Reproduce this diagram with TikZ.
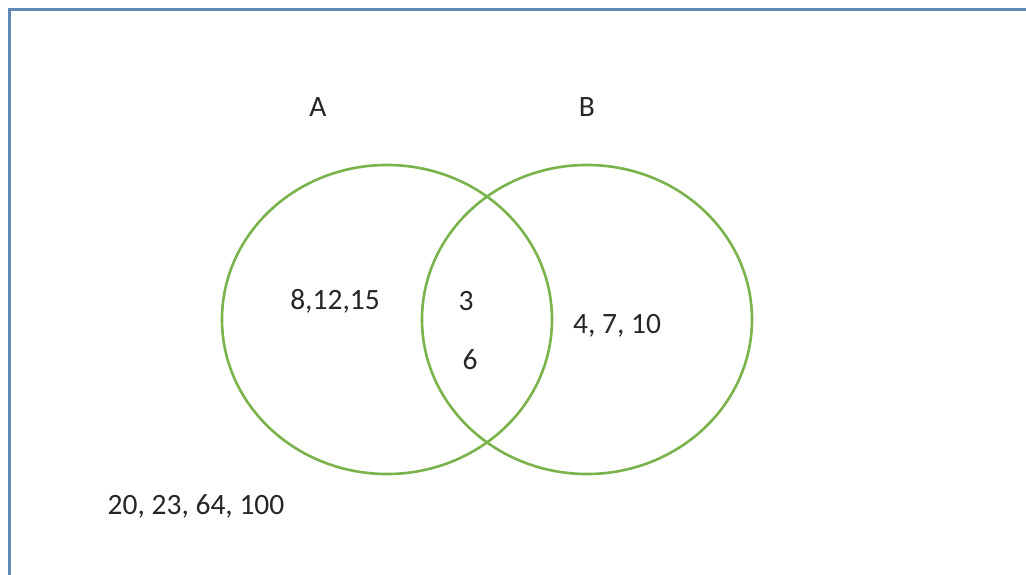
\documentclass[tikz,border=0pt]{standalone}
\usepackage{fontspec}
\setmainfont{Carlito}
\definecolor{vgreen}{RGB}{122,178,76}
\definecolor{frameblue}{RGB}{96,138,182}
\begin{document}
\begin{tikzpicture}[x=1pt,y=-1pt,
  lbl/.style={inner sep=0pt,font=\fontsize{29.5}{32}\selectfont,text=black!85},
  setring/.style={draw=vgreen,line width=2.6pt}]
\useasboundingbox (0,0) rectangle (1026,575);
\draw[frameblue,line width=3pt] (9.5,590) -- (9.5,9.5) -- (1040,9.5);
\draw[setring] (387,319.5) ellipse [x radius=165,y radius=154.5];
\draw[setring] (587,319.5) ellipse [x radius=165,y radius=154.5];
\node[lbl] (la) at (318,107) {A};
\node[lbl] (lb) at (587,107) {B};
\node[lbl] (onlya) at (335,301) {8,12,15};
\node[lbl] (both1) at (466,301) {3};
\node[lbl] (both2) at (470,360) {6};
\node[lbl] (onlyb) at (617,326) {4, 7, 10};
\node[lbl] (outside) at (196,506) {20, 23, 64, 100};
\end{tikzpicture}
\end{document}
